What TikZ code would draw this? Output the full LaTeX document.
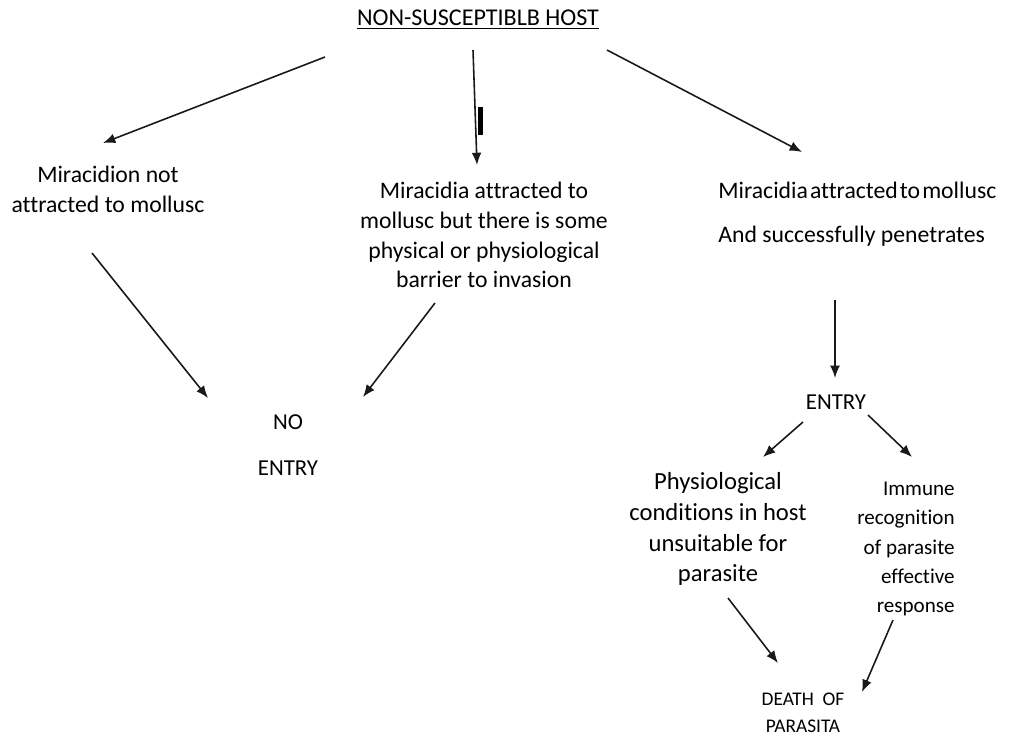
\documentclass[tikz,border=0pt]{standalone}
\usepackage{fontspec}
\setmainfont{Carlito}[Ligatures=NoCommon]
\usetikzlibrary{arrows.meta}
\usetikzlibrary{calc}
\tikzstyle{every node}+=[inner sep=0pt]
\tikzstyle{txt} = [align=center, font=\fontsize{13.5}{17}\selectfont]
\tikzstyle{small} = [align=center, font=\fontsize{12}{16.6}\selectfont]
\tikzstyle{tiny} = [align=center, font=\fontsize{11}{15.4}\selectfont]
\tikzstyle{line} = [draw, black!90, line width=0.9pt, -{Latex[length=7pt,width=5.6pt]}]
\newcommand{\tightsp}{\hspace{1.2pt}}

\begin{document}
\begin{tikzpicture}[x=0.02cm, y=-0.02cm]
            \useasboundingbox (0,0) rectangle (1019,738);
            % Place nodes
            \node [txt, font=\fontsize{13.7}{17}\selectfont] (host) at (478,20) {\underline{NON-SUSCEPTIBLB HOST}};
            \node [txt] (miss) at (108,189) {Miracidion not\\attracted to mollusc};
            \node [txt] (barrier) at (484,235) {Miracidia attracted to\\mollusc but there is some\\physical or physiological\\barrier to invasion};
            \node [txt, align=left, anchor=west] (penetr) at (718,214) {Miracidia\tightsp attracted\tightsp to\tightsp mollusc\\[8pt]And successfully penetrates};
            \node [txt, font=\fontsize{13}{26}\selectfont] (noentry) at (288,445) {NO\\ENTRY};
            \node [txt, font=\fontsize{13}{17}\selectfont] (entry) at (836,402) {ENTRY};
            \node [txt, font=\fontsize{14}{17.6}\selectfont] (unsuit) at (718,529) {Physiological\\conditions in host\\unsuitable for\\parasite};
            \node [small, align=right, anchor=east] (immune) at (955,549) {Immune\\recognition\\of parasite\\effective\\response};
            \node [tiny] (death) at (803,713) {DEATH\ \ OF\\PARASITA};
            % small mark beside the middle arrow
            \fill (477.7,106.7) rectangle (482.7,135);
            % Draw edges
            \path [line] ($(host)+(-153,37)$) -- ($(miss)+(-5,-46)$);
            \path [line] ($(host)+(-5,30)$) -- ($(barrier)+(-7,-70)$);
            \path [line] ($(host)+(129,30)$) -- ($(penetr.west)+(84,-62)$);
            \path [line] ($(miss)+(-16,64)$) -- ($(noentry)+(-80,-47)$);
            \path [line] ($(barrier)+(-49,68)$) -- ($(noentry)+(75,-48)$);
            \path [line] ($(penetr.west)+(117,86)$) -- ($(entry)+(-1,-24)$);
            \path [line] ($(entry)+(-33,20)$) -- ($(unsuit)+(45,-72)$);
            \path [line] ($(entry)+(32,13)$) -- ($(immune.east)+(-43,-92)$);
            \path [line] ($(unsuit)+(10,69)$) -- ($(death)+(-25,-50)$);
            \path [line] ($(immune.east)+(-62,71)$) -- ($(death)+(59,-21)$);
          \end{tikzpicture}
\end{document}
